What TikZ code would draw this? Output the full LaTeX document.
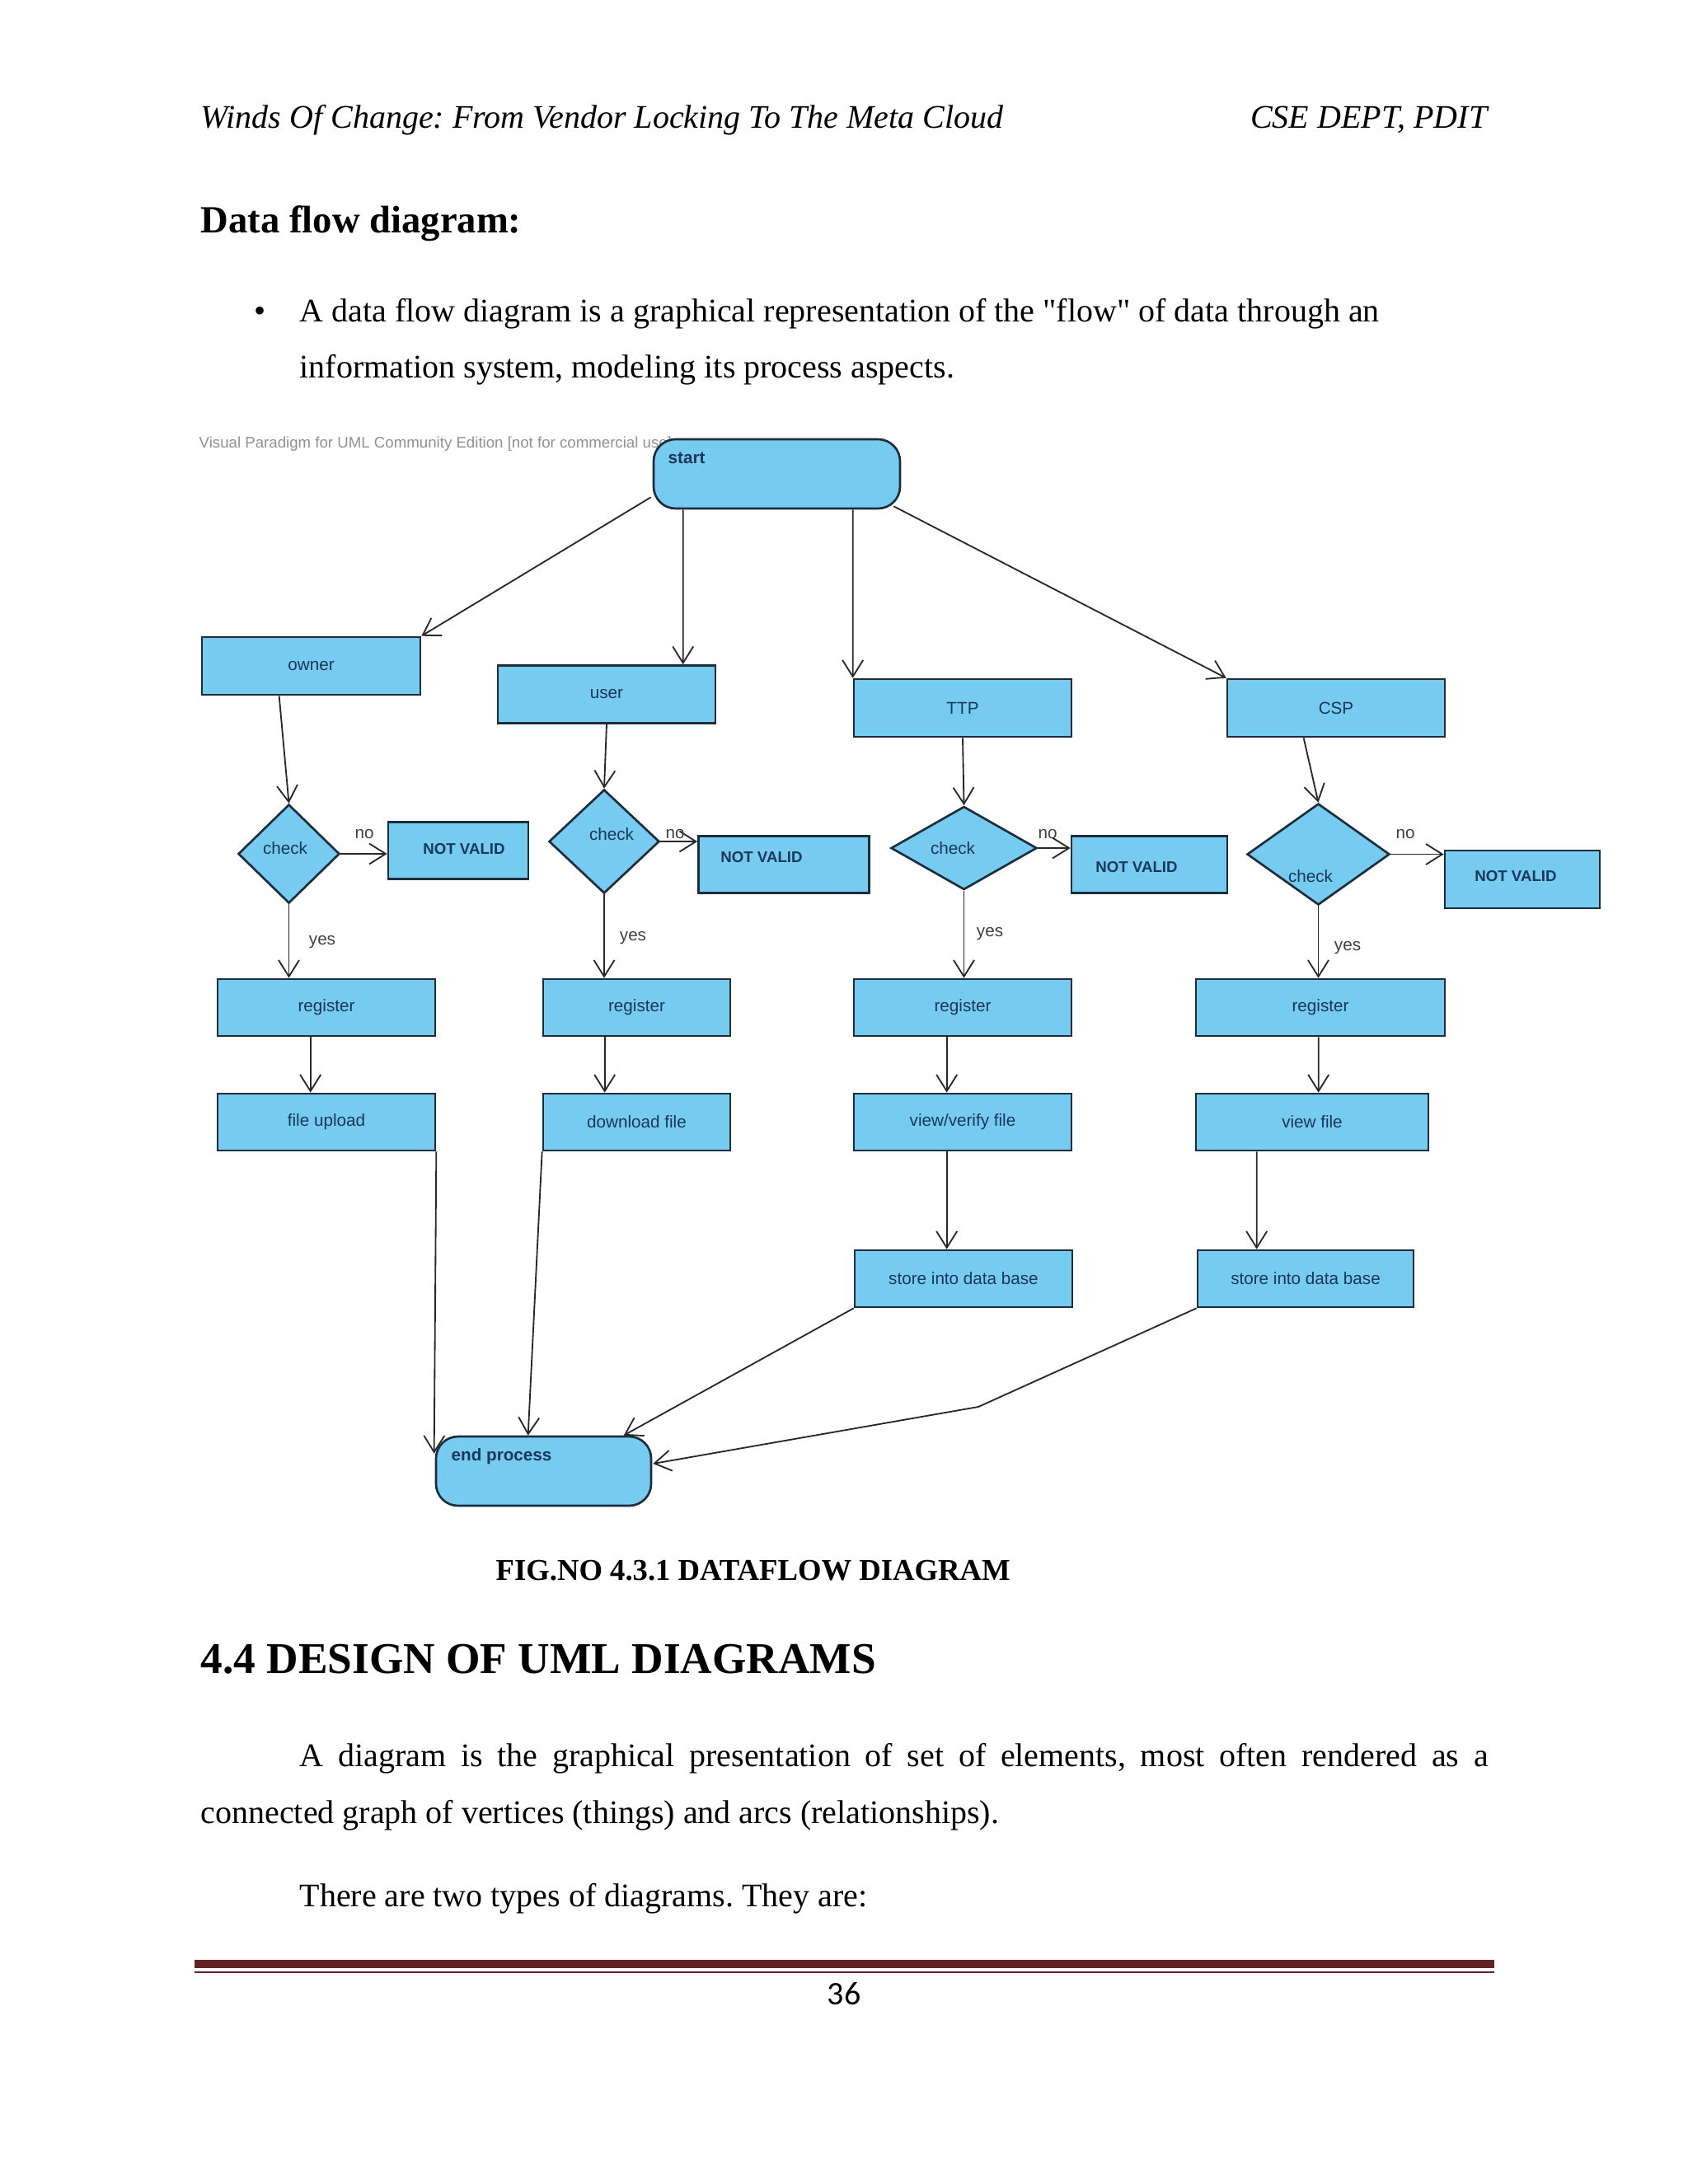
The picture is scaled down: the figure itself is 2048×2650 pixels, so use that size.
\documentclass[tikz,border=0pt]{standalone}
\usepackage{fontspec}
\setmainfont{Liberation Serif}
\newfontfamily\dgfont{Liberation Sans}
\newfontfamily\pgnumfont{Carlito}
\usetikzlibrary{shapes.geometric,arrows.meta,calc}
\definecolor{boxfill}{RGB}{118,203,240}
\definecolor{boxline}{RGB}{30,45,60}
\definecolor{boxtext}{RGB}{25,55,90}
\definecolor{edgecol}{RGB}{40,40,40}
\definecolor{rulecol}{RGB}{98,36,35}
\definecolor{wmark}{RGB}{145,145,145}
\newcommand\straightquote{{\XeTeXglyph\XeTeXglyphindex "quotedbl"\relax}}
\frenchspacing
\begin{document}
\begin{tikzpicture}[x=0.3pt,y=-0.3pt,
  proc/.style={draw=boxline, line width=0.8pt, fill=boxfill, rectangle, inner sep=0pt, text=boxtext, font=\dgfont\fontsize{6.2}{7}\selectfont},
  dec/.style={draw=boxline, line width=0.8pt, fill=boxfill, diamond, inner sep=0pt},
  term/.style={draw=boxline, line width=0.8pt, fill=boxfill, rectangle, rounded corners=8pt, inner sep=0pt},
  lbl/.style={text=boxtext, font=\dgfont\fontsize{6.2}{7}\selectfont, inner sep=0pt},
  boldlbl/.style={text=boxtext, font=\dgfont\bfseries\fontsize{6.2}{7}\selectfont, inner sep=0pt, anchor=base west},
  nvlbl/.style={text=boxtext, font=\dgfont\bfseries\fontsize{5.6}{6.5}\selectfont, inner sep=0pt},
  edgelbl/.style={text=black!75, font=\dgfont\fontsize{6.2}{7}\selectfont, inner sep=0pt},
  flow/.style={draw=edgecol, line width=0.55pt, -{Straight Barb[length=6pt,width=7.5pt]}},
  body/.style={inner sep=0pt, anchor=base west, font=\fontsize{12}{14}\selectfont}
]
\useasboundingbox (0,0) rectangle (2048,2650);
\fill[white] (0,0) rectangle (2048,2650);

% page header and text
\node[body, font=\itshape\fontsize{12}{14}\selectfont] (hdrl) at (243,155) {Winds Of Change: From Vendor Locking To The Meta Cloud};
\node[body, anchor=base east, font=\itshape\fontsize{12}{14}\selectfont] (hdrr) at (1805,155) {CSE DEPT, PDIT};
\node[body, font=\bfseries\fontsize{14}{16}\selectfont] (title) at (243,282) {Data flow diagram:};
\node[body] (bul) at (308,390) {\char"2022};
\node[body] (b1) at (363,390) {A data flow diagram is a graphical representation of the \straightquote flow\straightquote{} of data through an};
\node[body] (b2) at (363,458) {information system, modeling its process aspects.};

% watermark
\node[inner sep=0pt, anchor=base west, text=wmark, font=\dgfont\fontsize{5.6}{6.5}\selectfont] (wm) at (241,543) {Visual Paradigm for UML Community Edition [not for commercial use]};

% diagram nodes
\node[term, minimum width=89.7pt, minimum height=25.2pt] (start) at (942.5,575) {};
\node[boldlbl] (startlbl) at (810,562) {start};

\node[proc, minimum width=79.5pt, minimum height=21pt] (owner) at (377.5,808) {owner};
\node[proc, minimum width=79.2pt, minimum height=21pt] (user) at (736,842.5) {user};
\node[proc, minimum width=79.2pt, minimum height=21pt] (ttp) at (1168,859) {TTP};
\node[proc, minimum width=79.2pt, minimum height=21pt] (csp) at (1621,859) {CSP};

\node[dec, minimum width=36.9pt, minimum height=36pt] (chk1) at (350.5,1036) {};
\node[dec, minimum width=40.2pt, minimum height=37.8pt] (chk2) at (733,1021) {};
\node[dec, minimum width=53.1pt, minimum height=30.3pt] (chk3) at (1169.5,1029) {};
\node[dec, minimum width=51.9pt, minimum height=36.9pt] (chk4) at (1599.5,1036.5) {};
\node[lbl] (chk1lbl) at (346,1029) {check};
\node[lbl] (chk2lbl) at (742,1012) {check};
\node[lbl] (chk3lbl) at (1156,1029) {check};
\node[lbl] (chk4lbl) at (1590,1063) {check};

\node[proc, minimum width=51pt, minimum height=20.7pt] (nv1) at (556,1032) {};
\node[proc, minimum width=62.1pt, minimum height=20.7pt] (nv2) at (951,1049) {};
\node[proc, minimum width=56.7pt, minimum height=20.7pt] (nv3) at (1394.5,1049) {};
\node[proc, minimum width=56.4pt, minimum height=21pt] (nv4) at (1847,1067) {};
\node[nvlbl] (nv1lbl) at (563,1030) {NOT VALID};
\node[nvlbl] (nv2lbl) at (924,1040) {NOT VALID};
\node[nvlbl] (nv3lbl) at (1379,1052) {NOT VALID};
\node[nvlbl] (nv4lbl) at (1839,1063) {NOT VALID};

\node[proc, minimum width=79.2pt, minimum height=20.7pt] (reg1) at (396,1222.5) {register};
\node[proc, minimum width=68.1pt, minimum height=20.7pt] (reg2) at (772.5,1222.5) {register};
\node[proc, minimum width=79.2pt, minimum height=20.7pt] (reg3) at (1168,1222.5) {register};
\node[proc, minimum width=90.6pt, minimum height=20.7pt] (reg4) at (1602,1222.5) {register};

\node[proc, minimum width=79.2pt, minimum height=20.7pt] (fu) at (396,1361.5) {file upload};
\node[proc, minimum width=68.1pt, minimum height=20.7pt] (dl) at (772.5,1361.5) {download file};
\node[proc, minimum width=79.2pt, minimum height=20.7pt] (vv) at (1168,1361.5) {view/verify file};
\node[proc, minimum width=84.6pt, minimum height=20.7pt] (vf) at (1592,1361.5) {view file};

\node[proc, minimum width=79.2pt, minimum height=20.7pt] (st1) at (1169,1551.5) {store into data base};
\node[proc, minimum width=78.6pt, minimum height=20.7pt] (st2) at (1584,1551.5) {store into data base};

\node[term, minimum width=78.3pt, minimum height=25.2pt] (endp) at (659.5,1785) {};
\node[boldlbl] (endlbl) at (547,1772) {end process};

% connectors
\draw[flow] ($(start.south west)+(-2,-15)$) -- (owner.north east);
\draw[flow] ($(start.south west)+(37,0)$) -- ($(user.north west)+(226,0)$);
\draw[flow] ($(start.south west)+(243,0)$) -- (ttp.north west);
\draw[flow] ($(start.south east)+(-9,-4)$) -- (csp.north west);

\draw[flow] ($(owner.south west)+(95,0)$) -- (chk1.north);
\draw[flow] (user.south) -- (chk2.north);
\draw[flow] (ttp.south) -- (chk3.north);
\draw[flow] ($(csp.south west)+(94,0)$) -- (chk4.north);

\draw[flow] (chk1.east) -- (chk1.east -| nv1.west);
\draw[flow] (chk2.east) -- (chk2.east -| nv2.west);
\draw[flow] (chk3.east) -- (chk3.east -| nv3.west);
\draw[flow] (chk4.east) -- (chk4.east -| nv4.west);
\node[edgelbl] (no1) at (442,1012) {no};
\node[edgelbl] (no2) at (819,1012) {no};
\node[edgelbl] (no3) at (1271,1012) {no};
\node[edgelbl] (no4) at (1705,1012) {no};

\draw[flow] (chk1.south) -- (chk1.south |- reg1.north);
\draw[flow] (chk2.south) -- (chk2.south |- reg2.north);
\draw[flow] (chk3.south) -- (chk3.south |- reg3.north);
\draw[flow] (chk4.south) -- (chk4.south |- reg4.north);
\node[edgelbl] (yes1) at (391,1143) {yes};
\node[edgelbl] (yes2) at (768,1138) {yes};
\node[edgelbl] (yes3) at (1201,1133) {yes};
\node[edgelbl] (yes4) at (1635,1150) {yes};

\draw[flow] ($(reg1.south west)+(114,0)$) -- ($(fu.north west)+(114,0)$);
\draw[flow] ($(reg2.south west)+(76,0)$) -- ($(dl.north west)+(76,0)$);
\draw[flow] ($(reg3.south west)+(114,0)$) -- ($(vv.north west)+(114,0)$);
\draw[flow] ($(reg4.south west)+(150,0)$) -- ($(vf.north west)+(150,0)$);

\draw[flow] ($(vv.south west)+(114,0)$) -- ($(st1.north west)+(113,0)$);
\draw[flow] ($(vf.south west)+(75,0)$) -- ($(st2.north west)+(73,0)$);

\coordinate (bend) at (1187,1707);
\draw[flow] (fu.south east) -- ($(endp.north west)+(-1,22)$);
\draw[flow] (dl.south west) -- ($(endp.north west)+(113,0)$);
\draw[flow] (st1.south west) -- ($(endp.north west)+(229,0)$);
\draw[flow] (st2.south west) -- (bend) -- ($(endp.east)+(1,-9)$);

% caption and following text
\node[body, font=\bfseries\fontsize{11}{13}\selectfont] (cap) at (601,1917) {FIG.NO 4.3.1 DATAFLOW DIAGRAM};
\node[body, font=\bfseries\fontsize{16}{19}\selectfont] (sec) at (243,2030) {4.4 DESIGN OF UML DIAGRAMS};
\node[body] (p1) at (363,2143) {\makebox[432.6pt][s]{A diagram is the graphical presentation of set of elements, most often rendered as a}};
\node[body] (p2) at (243,2212) {connected graph of vertices (things) and arcs (relationships).};
\node[body] (p3) at (363,2313) {There are two types of diagrams. They are:};

\fill[rulecol] (236,2378) rectangle (1813,2388);
\fill[rulecol] (236,2392) rectangle (1813,2394);
\node[inner sep=0pt, anchor=base, font=\pgnumfont\fontsize{12}{14}\selectfont] (pg) at (1024,2432) {36};
\end{tikzpicture}
\end{document}
